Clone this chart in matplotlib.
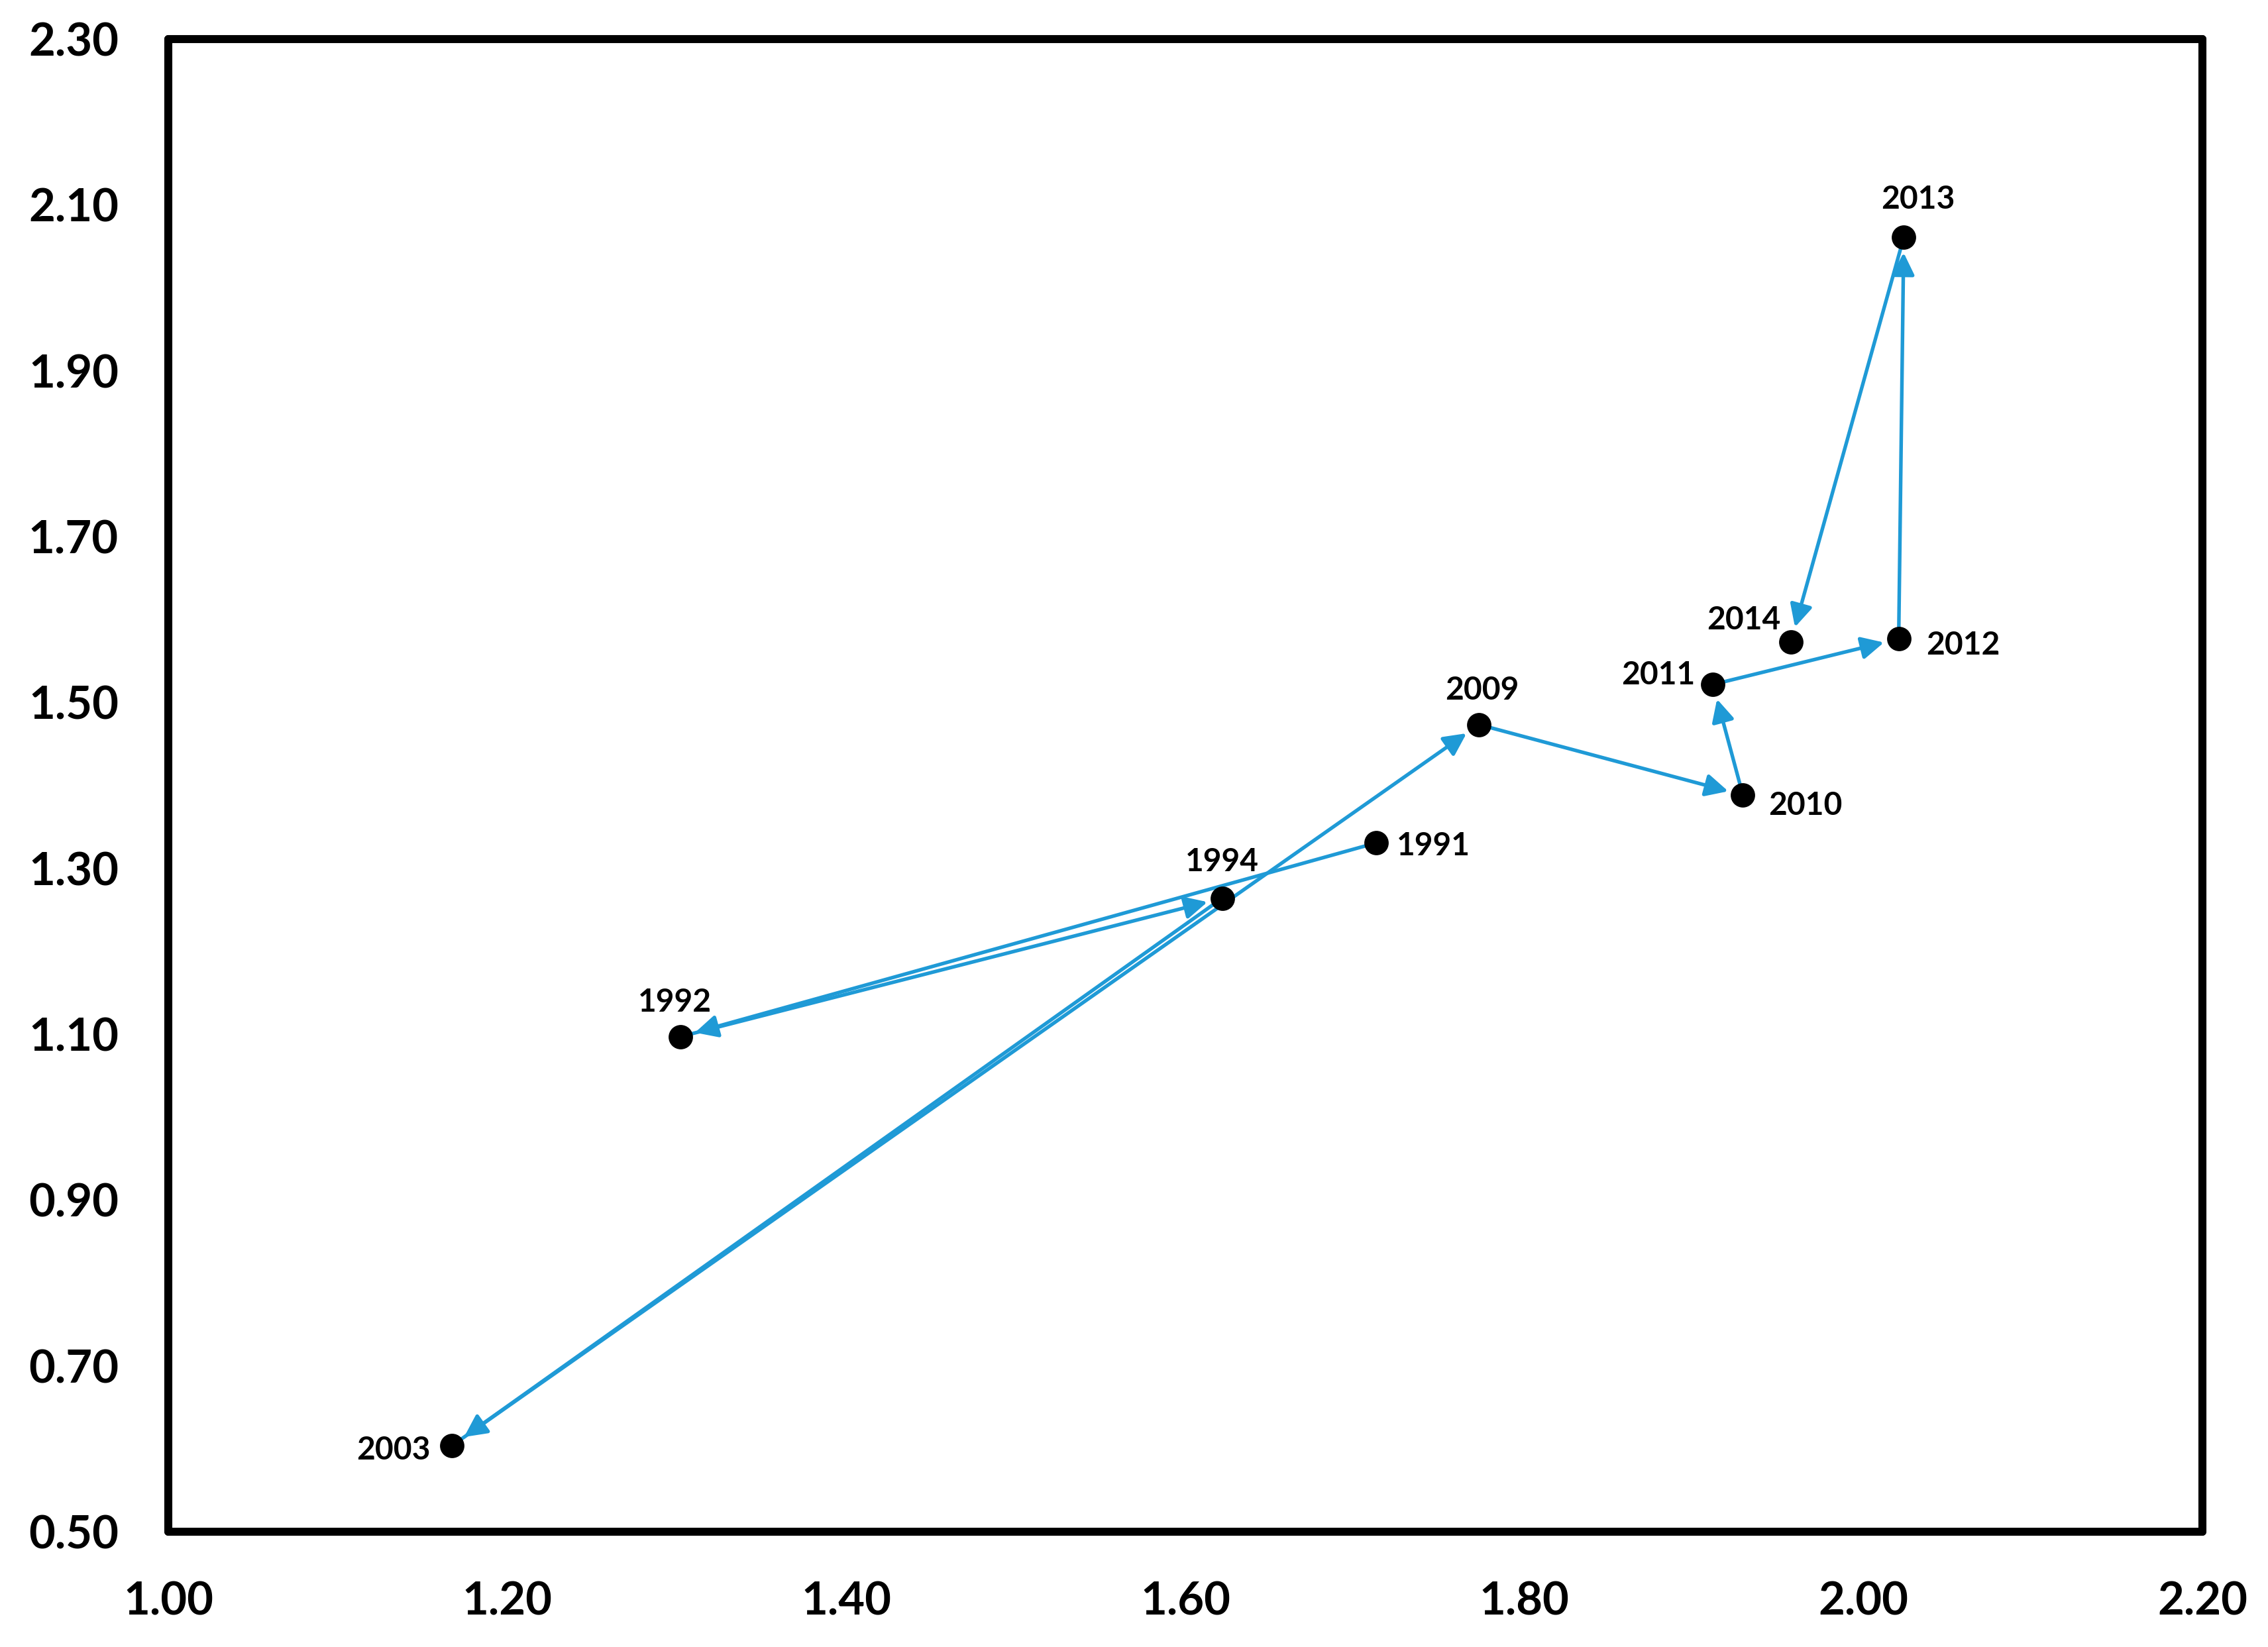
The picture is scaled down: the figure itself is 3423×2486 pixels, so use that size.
import matplotlib
matplotlib.use("Agg")
import matplotlib.pyplot as plt

# Data (x, y per year)
years = ["1991", "1992", "1994", "2003", "2009", "2010", "2011", "2012", "2013", "2014"]
x_vals = [1.7125, 1.3021, 1.6217, 1.1672, 1.7732, 1.9289, 1.9113, 2.0208, 2.0238, 1.9572]
y_vals = [1.3306, 1.0970, 1.2639, 0.6036, 1.4733, 1.3882, 1.5217, 1.5767, 2.0608, 1.5732]

x_ticks = [1.00, 1.20, 1.40, 1.60, 1.80, 2.00, 2.20]
y_ticks = [0.50, 0.70, 0.90, 1.10, 1.30, 1.50, 1.70, 1.90, 2.10, 2.30]

# label offsets in points (per year)
label_offsets = {
    "1991": (20.8, -1.1),
    "1992": (-2.1, 12.3),
    "1994": (0.0, 13.1),
    "2003": (-21.2, -1.5),
    "2009": (1.1, 12.3),
    "2010": (22.7, -3.8),
    "2011": (-19.8, 3.5),
    "2012": (23.3, -2.3),
    "2013": (5.1, 13.8),
    "2014": (-17.1, 7.9),
}

ARROW_COLOR = "#1F9AD6"
FONT = "Lato"

fig = plt.figure(figsize=(3423 / 300, 2486 / 300), dpi=300)
ax = fig.add_axes([0.0742, 0.0700, 0.9711 - 0.0742, 0.9763 - 0.0700])

# arrows between consecutive years
for i in range(len(years) - 1):
    ax.annotate("", xy=(x_vals[i + 1], y_vals[i + 1]), xytext=(x_vals[i], y_vals[i]),
                arrowprops=dict(arrowstyle="-|>", color=ARROW_COLOR, lw=1.3,
                                shrinkA=3, shrinkB=5.5, mutation_scale=17),
                zorder=2)

ax.scatter(x_vals, y_vals, s=78, color="black", linewidths=0, zorder=3)

for yr, xv, yv in zip(years, x_vals, y_vals):
    dx, dy = label_offsets[yr]
    ax.annotate(yr, (xv, yv), xytext=(dx, dy), textcoords="offset points",
                ha="center", va="center", fontsize=11.5, fontweight="bold",
                family=FONT, zorder=4)

ax.set_xlim(1.0, 2.2)
ax.set_ylim(0.5, 2.3)
ax.set_xticks(x_ticks)
ax.set_yticks(y_ticks)
ax.set_xticklabels([f"{v:.2f}" for v in x_ticks])
ax.set_yticklabels([f"{v:.2f}" for v in y_ticks])
for lab in ax.get_xticklabels() + ax.get_yticklabels():
    lab.set_fontfamily(FONT)
    lab.set_fontweight("bold")
    lab.set_fontsize(16.5)
ax.tick_params(axis="both", length=0)
ax.tick_params(axis="y", pad=18)
ax.tick_params(axis="x", pad=18)

for side in ["top", "bottom", "left", "right"]:
    ax.spines[side].set_linewidth(2.9)
    ax.spines[side].set_capstyle("round")

fig.savefig("out.png", dpi=300)
